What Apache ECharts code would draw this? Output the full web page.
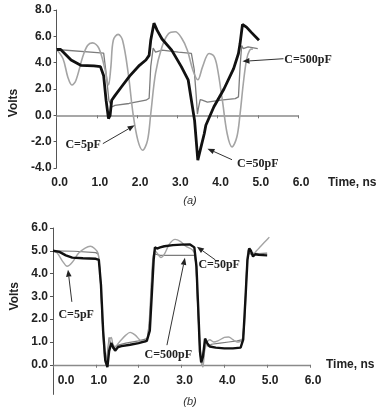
<!DOCTYPE html>
<html>
<head>
<meta charset="utf-8">
<script src="https://cdn.jsdelivr.net/npm/echarts@6/dist/echarts.min.js"></script>
<style>html,body{margin:0;padding:0;background:#fff}#c{width:380px;height:411px}</style>
</head>
<body>
<div id="c"></div>
<script>
// ---------- data ----------
const xTickLabels = ['0.0','1.0','2.0','3.0','4.0','5.0','6.0'];
const yTickLabelsA = ['-4.0','-2.0','0.0','2.0','4.0','6.0','8.0'];
const yTickValuesA = [-4,-2,0,2,4,6,8];
const yTickLabelsB = ['0.0','1.0','2.0','3.0','4.0','5.0','6.0'];
const yTickValuesB = [0,1,2,3,4,5,6];

// (a) C=5pF  (light gray, large ringing)
const a5 = [[0,5.0],[0.16,4.3],[0.28,2.9],[0.38,2.3],[0.48,2.65],[0.65,4.45],[0.77,5.3],[0.89,5.5],[1.05,5.1],[1.21,3.4],[1.29,2.3],[1.35,3.7],[1.41,5.7],[1.53,6.15],[1.64,5.7],[1.78,3.2],[1.9,0.13],[2.02,-1.9],[2.14,-2.65],[2.26,-1.9],[2.34,0.1],[2.46,3.2],[2.62,5.2],[2.78,6.2],[2.95,6.35],[3.11,5.85],[3.25,4.95],[3.39,3.4],[3.51,2.7],[3.63,3.7],[3.79,4.7],[3.91,4.5],[3.99,3.7],[4.12,1.15],[4.24,-1.4],[4.36,-2.4],[4.48,-1.65],[4.56,0.1],[4.64,2.4],[4.72,4.2],[4.8,4.95],[4.88,5.05]];
// (a) C=50pF  (thick black)
const a50 = [[0,5.0],[0.1,5.0],[0.2,4.7],[0.36,4.2],[0.6,3.8],[0.93,3.75],[1.09,3.7],[1.17,3.0],[1.23,1.15],[1.29,-0.25],[1.33,0.0],[1.37,1.15],[1.45,1.5],[1.61,2.15],[1.82,3.0],[2.06,3.8],[2.22,4.2],[2.3,4.55],[2.34,5.7],[2.42,7.0],[2.5,6.45],[2.62,5.8],[2.86,4.95],[3.1,3.7],[3.27,2.7],[3.35,1.15],[3.43,-0.4],[3.51,-3.4],[3.59,-2.4],[3.67,-1.4],[3.71,-0.75],[3.91,0.65],[4.16,2.0],[4.4,3.55],[4.52,4.7],[4.56,5.45],[4.62,6.9],[4.72,6.7],[4.84,6.3],[5.03,5.7]];
// (a) C=500pF (medium gray)
const a500 = [[0,5.0],[1.01,4.77],[1.17,4.72],[1.22,3.5],[1.3,1.15],[1.37,0.63],[1.45,0.75],[1.8,0.9],[2.22,1.15],[2.3,1.3],[2.34,3.7],[2.4,5.1],[2.46,4.8],[2.62,4.95],[3.03,4.8],[3.35,4.7],[3.42,3.5],[3.47,1.5],[3.5,0.1],[3.53,0.63],[3.57,1.2],[3.62,1.15],[3.75,1.0],[4.08,1.15],[4.44,1.27],[4.52,1.4],[4.56,3.7],[4.6,5.3],[4.64,5.07],[4.76,5.2],[5.0,5.07]];

// (b) C=5pF
const b5 = [[0,5.0],[0.1,4.9],[0.22,4.55],[0.33,4.32],[0.45,4.5],[0.6,4.9],[0.75,5.12],[0.87,5.2],[0.97,5.1],[1.05,4.9],[1.1,4.0],[1.15,2.0],[1.2,0.4],[1.24,0.0],[1.28,0.5],[1.32,1.1],[1.36,1.2],[1.4,0.9],[1.45,0.8],[1.55,1.0],[1.7,1.3],[1.8,1.42],[1.92,1.3],[2.05,1.05],[2.15,1.0],[2.22,1.3],[2.28,3.0],[2.33,4.6],[2.38,5.0],[2.45,4.85],[2.52,4.7],[2.6,4.85],[2.72,5.3],[2.85,5.5],[2.98,5.4],[3.1,5.2],[3.25,5.05],[3.32,4.8],[3.36,3.5],[3.41,1.5],[3.46,0.2],[3.5,-0.1],[3.54,0.6],[3.6,1.0],[3.66,1.1],[3.75,1.0],[3.85,1.05],[4.0,1.2],[4.1,1.22],[4.2,1.1],[4.3,1.0],[4.4,1.05],[4.46,1.5],[4.51,3.5],[4.55,5.0],[4.6,5.1],[4.66,4.8],[4.75,5.0],[4.85,5.2],[5.0,5.5],[5.05,5.6]];
// (b) C=50pF
const b50 = [[0,5.0],[0.15,4.95],[0.3,4.8],[0.45,4.7],[0.7,4.67],[1.0,4.65],[1.07,4.6],[1.12,3.5],[1.17,1.5],[1.22,0.2],[1.27,-0.1],[1.31,0.6],[1.36,0.95],[1.41,0.75],[1.45,0.62],[1.52,0.78],[1.6,0.82],[1.8,0.88],[2.0,0.95],[2.19,1.05],[2.26,1.5],[2.31,3.2],[2.35,4.6],[2.38,5.15],[2.43,5.1],[2.5,5.15],[2.6,5.2],[2.8,5.25],[3.0,5.27],[3.2,5.28],[3.3,5.15],[3.35,4.3],[3.39,2.5],[3.43,0.6],[3.46,0.1],[3.5,0.35],[3.55,1.15],[3.6,0.95],[3.66,0.8],[3.8,0.75],[4.0,0.72],[4.2,0.72],[4.38,0.75],[4.44,1.1],[4.49,2.8],[4.54,4.6],[4.58,5.1],[4.62,5.0],[4.67,4.75],[4.72,4.85],[4.8,4.82],[5.0,4.8]];
// (b) C=500pF
const b500 = [[0,5.0],[0.5,4.98],[1.0,4.92],[1.06,4.85],[1.1,4.0],[1.15,2.0],[1.2,0.5],[1.24,0.1],[1.28,0.7],[1.31,1.2],[1.35,0.9],[1.4,0.7],[1.5,0.85],[1.7,0.95],[2.0,1.05],[2.2,1.15],[2.26,2.0],[2.31,4.0],[2.35,4.9],[2.4,4.85],[2.5,4.8],[3.0,4.8],[3.3,4.8],[3.34,4.4],[3.38,2.5],[3.43,0.5],[3.47,0.0],[3.52,0.7],[3.56,1.0],[3.62,0.8],[3.7,0.9],[3.9,0.95],[4.1,1.0],[4.3,1.05],[4.42,1.1],[4.47,2.0],[4.52,4.2],[4.56,5.0],[4.6,4.85],[4.65,4.9],[4.8,4.88],[5.0,4.9]];

// annotations (data coordinates)
const notesA = [
  {text:'C=500pF', at:[6.25,4.2],  from:[5.64,4.3],  to:[4.62,4.1]},
  {text:'C=50pF',  at:[5.0,-3.67], from:[4.36,-3.37], to:[3.75,-2.53]},
  {text:'C=5pF',   at:[0.66,-2.28], from:[1.15,-2.15], to:[1.94,-0.76]}
];
const notesB = [
  {text:'C=5pF',   at:[0.54,2.19], from:[0.44,2.76], to:[0.35,4.17]},
  {text:'C=50pF',  at:[3.88,4.37], from:[3.79,4.6],  to:[3.36,5.18]},
  {text:'C=500pF', at:[2.69,0.43], from:[2.66,0.86], to:[3.08,4.69]}
];
const panelLabels = ['(a)','(b)'];

// ---------- chart ----------
const SANS = '"Liberation Sans", Arial, sans-serif';
const SERIF = '"Liberation Serif", "Times New Roman", serif';
const lab = {fontFamily:SANS, fontWeight:'bold', fontSize:12, color:'#222'};
const xFmt = v => xTickLabels[Math.round(v)];
const gridB = {left:53, top:228, width:257, height:166.4};
const yMinB = -1.3, yMaxB = 6;
const zeroOffsetB = gridB.height * (0 - yMinB) / (yMaxB - yMinB);

const chart = echarts.init(document.getElementById('c'), null, {renderer:'canvas'});
const option = {
  animation:false,
  backgroundColor:'#fff',
  grid:[
    {left:50, top:10, width:248, height:158},
    gridB
  ],
  xAxis:[
    {gridIndex:0, type:'value', min:0, max:6, interval:1,
     axisLine:{onZero:true, lineStyle:{color:'#8a8a8a', width:1.5}},
     axisTick:{length:3, lineStyle:{color:'#777'}},
     axisLabel:{show:false}, splitLine:{show:false}},
    {gridIndex:0, type:'value', position:'bottom', min:0, max:6, interval:1,
     axisLine:{show:false, onZero:false}, axisTick:{show:false}, splitLine:{show:false},
     axisLabel:Object.assign({margin:9, padding:[0,0,0,6], formatter:xFmt}, lab),
     name:'Time, ns', nameLocation:'end', nameGap:30,
     nameTextStyle:Object.assign({verticalAlign:'top', align:'left', padding:[9,0,0,0]}, lab)},
    {gridIndex:1, type:'value', min:0, max:6, interval:1,
     axisLine:{onZero:true, lineStyle:{color:'#8a8a8a', width:1.3}},
     axisTick:{length:3, lineStyle:{color:'#777'}}, splitLine:{show:false},
     axisLabel:{show:false},
     name:'Time, ns', nameLocation:'end', nameGap:16,
     nameTextStyle:Object.assign({verticalAlign:'middle', align:'left', padding:[0,0,4,0]}, lab)},
    {gridIndex:1, type:'value', position:'bottom', offset:-zeroOffsetB, min:0, max:6, interval:1,
     axisLine:{show:false, onZero:false}, axisTick:{show:false}, splitLine:{show:false},
     axisLabel:Object.assign({margin:10, padding:[0,0,0,6],
       formatter:v => v === 0 ? '{z|' + xFmt(v) + '}' : xFmt(v),
       rich:{z:Object.assign({padding:[0,0,0,20]}, lab)}}, lab)}
  ],
  yAxis:[
    {gridIndex:0, type:'value', min:-4, max:8, interval:2,
     axisLine:{show:true, onZero:false, lineStyle:{color:'#555', width:1}},
     axisTick:{show:true, length:3, lineStyle:{color:'#555'}}, splitLine:{show:false},
     axisLabel:Object.assign({margin:5, formatter:v => yTickLabelsA[yTickValuesA.indexOf(Math.round(v))]}, lab),
     name:'Volts', nameLocation:'middle', nameGap:32, nameRotate:90,
     nameTextStyle:Object.assign({padding:[0,28,0,0]}, lab)},
    {gridIndex:1, type:'value', min:yMinB, max:yMaxB,
     axisLine:{show:true, onZero:false, lineStyle:{color:'#555', width:1}},
     axisTick:{show:true, length:3, customValues:yTickValuesB, lineStyle:{color:'#555'}}, splitLine:{show:false},
     axisLabel:Object.assign({margin:5, customValues:yTickValuesB,
       formatter:v => yTickLabelsB[yTickValuesB.indexOf(Math.round(v))] || ''}, lab),
     name:'Volts', nameLocation:'middle', nameGap:20, nameRotate:90,
     nameTextStyle:Object.assign({padding:[0,0,0,30]}, lab)}
  ],
  series:[
    {name:'a C=500pF', type:'line', xAxisIndex:0, yAxisIndex:0, data:a500, symbol:'none', z:2,
     lineStyle:{color:'#7c7c7c', width:1.3}},
    {name:'a C=5pF', type:'line', xAxisIndex:0, yAxisIndex:0, data:a5, symbol:'none', smooth:0.35, z:3,
     lineStyle:{color:'#a4a4a4', width:1.6}},
    {name:'a C=50pF', type:'line', xAxisIndex:0, yAxisIndex:0, data:a50, symbol:'none', z:4,
     lineStyle:{color:'#111', width:2.8}},
    {name:'b C=500pF', type:'line', xAxisIndex:2, yAxisIndex:1, data:b500, symbol:'none', z:2,
     lineStyle:{color:'#7c7c7c', width:1.2}},
    {name:'b C=5pF', type:'line', xAxisIndex:2, yAxisIndex:1, data:b5, symbol:'none', smooth:0.3, z:3,
     lineStyle:{color:'#a4a4a4', width:1.4}},
    {name:'b C=50pF', type:'line', xAxisIndex:2, yAxisIndex:1, data:b50, symbol:'none', z:4,
     lineStyle:{color:'#111', width:2.4}}
  ]
};
chart.setOption(option);

// annotations: arrows + serif labels, positioned from data coordinates
const graphics = [];
function addNotes(notes, finder){
  notes.forEach(n => {
    const p0 = chart.convertToPixel(finder, n.from);
    const p1 = chart.convertToPixel(finder, n.to);
    const pt = chart.convertToPixel(finder, n.at);
    const dx = p1[0]-p0[0], dy = p1[1]-p0[1];
    const L = Math.sqrt(dx*dx+dy*dy) || 1;
    const ux = dx/L, uy = dy/L;
    const bx = p1[0]-ux*7, by = p1[1]-uy*7;
    const wx = -uy*2.8, wy = ux*2.8;
    graphics.push({type:'line', z:10, shape:{x1:p0[0], y1:p0[1], x2:bx, y2:by},
      style:{stroke:'#333', lineWidth:1}});
    graphics.push({type:'polygon', z:10, shape:{points:[[p1[0],p1[1]],[bx+wx,by+wy],[bx-wx,by-wy]]},
      style:{fill:'#222'}});
    graphics.push({type:'text', z:11, x:pt[0], y:pt[1],
      style:{text:n.text, font:'bold 12px ' + SERIF, fill:'#222', align:'center', verticalAlign:'middle'}});
  });
}
addNotes(notesA, {xAxisIndex:0, yAxisIndex:0});
addNotes(notesB, {xAxisIndex:2, yAxisIndex:1});
graphics.push({type:'text', x:190, y:201, style:{text:panelLabels[0], font:'italic 11px ' + SANS, fill:'#333', align:'center', verticalAlign:'middle'}});
graphics.push({type:'text', x:190, y:402, style:{text:panelLabels[1], font:'italic 11px ' + SANS, fill:'#333', align:'center', verticalAlign:'middle'}});
chart.setOption({graphic:graphics});
</script>
</body>
</html>
